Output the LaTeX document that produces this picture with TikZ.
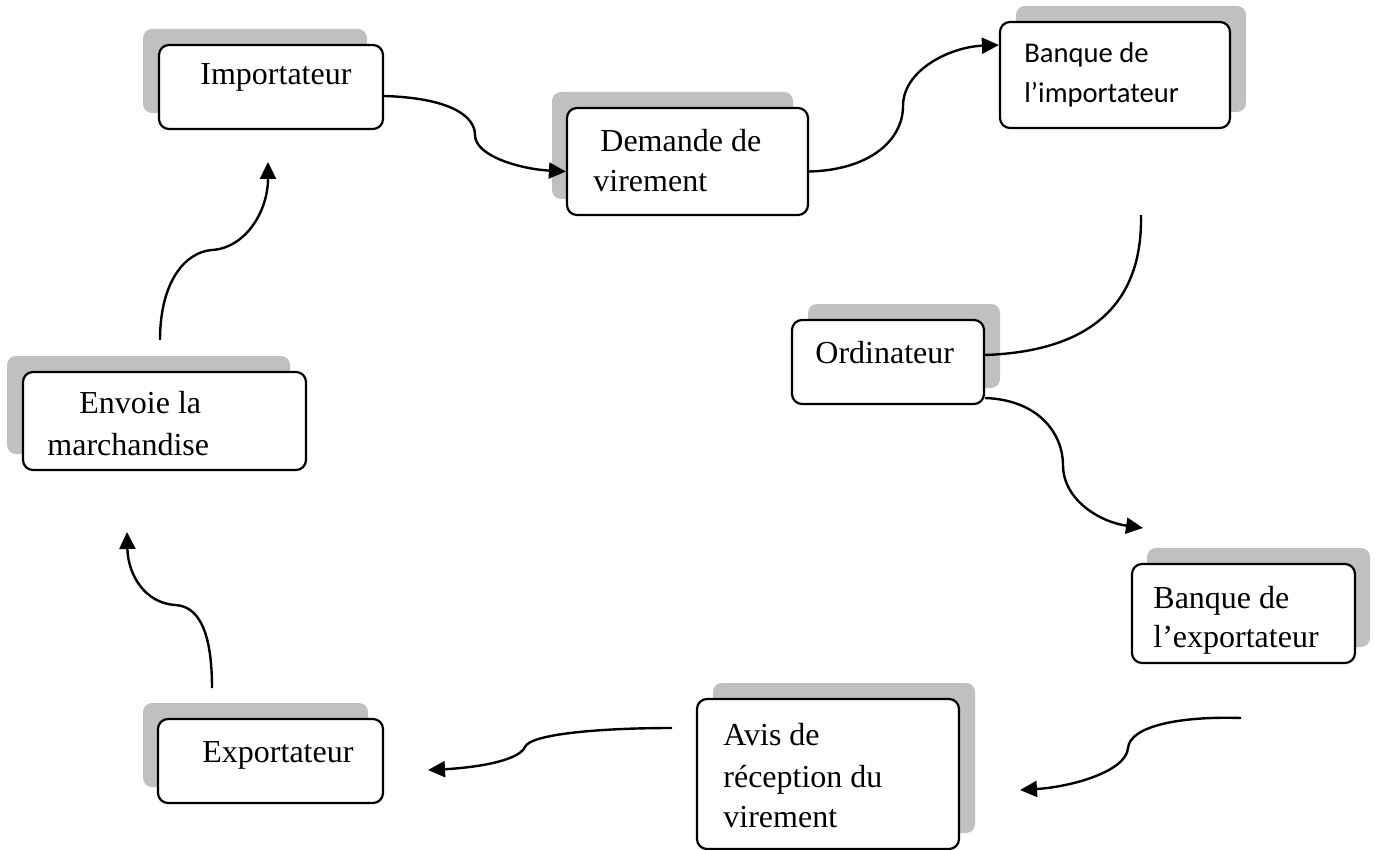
\documentclass[tikz,border=0pt]{standalone}
\usepackage{fontspec}
\setmainfont{Liberation Serif}
\newfontfamily\calib{Carlito}
\usetikzlibrary{arrows.meta}
\definecolor{shadowc}{RGB}{192,192,192}
\tikzset{
 boxnode/.style={draw=black, line width=1.1pt, rounded corners=5pt, fill=white, inner sep=0pt},
 txt/.style={anchor=base west, inner sep=0pt, font=\fontsize{16}{20}\selectfont},
 ctxt/.style={anchor=base west, inner sep=0pt, font=\calib\fontsize{14.3}{18}\selectfont},
 conn/.style={line width=1.2pt, draw=black},
 arr/.style={conn, -{Triangle[length=8.5pt,width=8pt]}},
}
\newcommand\shbox[6]{%
 \fill[shadowc, rounded corners=4.5pt] ({#2-#4/2+(#6)},{#3-#5/2-16}) rectangle ({#2+#4/2+(#6)},{#3+#5/2-16});
 \node[boxnode, minimum width=#4*0.5pt, minimum height=#5*0.5pt] (#1) at (#2,#3) {};}
\begin{document}
\begin{tikzpicture}[x=0.5pt,y=-0.5pt]
\useasboundingbox (0,0) rectangle (1375,850);
% boxes: name, cx, cy, w, h, shadow dx (px)
\shbox{imp}{271}{87}{224}{84}{-16}
\shbox{dem}{687.5}{161.5}{241}{107}{-15}
\shbox{bimp}{1115}{75}{230}{106}{16}
\shbox{ord}{888}{362}{192}{84}{16}
\shbox{bexp}{1243.5}{613.5}{223}{99}{15}
\shbox{avis}{828}{774}{262}{150}{16}
\shbox{expo}{270.5}{761}{225}{84}{-15}
\shbox{env}{164.5}{421}{283}{98}{-16}
% texts
\node[txt] (timp) at (200,85) {Importateur};
\node[txt] (tdem1) at (600,152) {Demande de};
\node[txt] (tdem2) at (593,192) {virement};
\node[ctxt] (tbimp1) at (1024,63) {Banque de};
\node[ctxt] (tbimp2) at (1024,103) {l’importateur};
\node[txt] (tord) at (815,363) {Ordinateur};
\node[txt] (tbexp1) at (1153,608) {Banque de};
\node[txt] (tbexp2) at (1153,647) {l’exportateur};
\node[txt] (tavis1) at (723,745) {Avis de};
\node[txt] (tavis2) at (723,787) {réception du};
\node[txt] (tavis3) at (723,827) {virement};
\node[txt] (texpo) at (202,762) {Exportateur};
\node[txt] (tenv1) at (79,413) {Envoie la};
\node[txt] (tenv2) at (47,455) {marchandise};
% free ends
\coordinate (c3s) at (1141,215);
\coordinate (c4e) at (1143,528);
\coordinate (c5s) at (1241,718);
\coordinate (c5e) at (1020,790);
\coordinate (c6s) at (672,728);
\coordinate (c6e) at (428,770);
\coordinate (c7s) at (212,688);
\coordinate (c7e) at (127,532);
\coordinate (c8s) at (160,340);
\coordinate (c8e) at (268,162);
% connectors
\draw[arr] ([yshift=-4.5pt]imp.east) .. controls (450,98) and (475,116) .. (475,135) .. controls (475,156) and (520,169) .. ([yshift=-5pt]dem.west);
\draw[arr] ([yshift=-5pt]dem.east) .. controls (870,170) and (903,140) .. (903,106) .. controls (903,70) and (950,47) .. ([yshift=15pt]bimp.west);
\draw[conn] (c3s) .. controls (1143,320) and (1070,352) .. ([yshift=3.5pt]ord.east);
\draw[arr] ([yshift=-18pt]ord.east) .. controls (1040,400) and (1063,435) .. (1063,465) .. controls (1063,500) and (1100,522) .. (c4e);
\draw[arr] (c5s) .. controls (1180,716) and (1130,726) .. (1128,748) .. controls (1126,772) and (1070,787) .. (c5e);
\draw[arr] (c6s) .. controls (600,728) and (530,734) .. (525,747) .. controls (518,762) and (470,768) .. (c6e);
\draw[arr] (c7s) .. controls (212,630) and (198,606) .. (175,605) .. controls (145,603) and (128,575) .. (c7e);
\draw[arr] (c8s) .. controls (160,282) and (185,252) .. (212,250) .. controls (245,248) and (268,212) .. (c8e);
\end{tikzpicture}
\end{document}
